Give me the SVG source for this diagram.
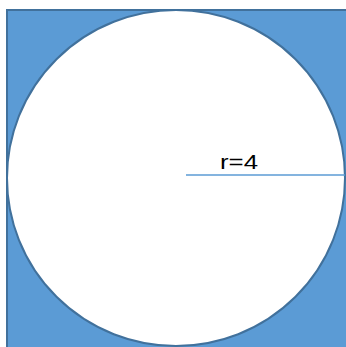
<svg xmlns="http://www.w3.org/2000/svg" width="346" height="347" viewBox="0 0 346 347">
<style>
.shape{stroke:#41719c;stroke-width:2}
.lbl{font-family:"Liberation Sans",Arial,sans-serif;font-size:21px;fill:#000}
</style>
<rect width="346" height="347" fill="#ffffff"/>
<g id="square"><rect class="shape" x="7" y="10" width="345" height="345" fill="#5b9bd5"/></g>
<g id="circle"><ellipse class="shape" cx="176" cy="178" rx="169" ry="168" fill="#ffffff"/></g>
<g id="connectors"><line x1="186" y1="175" x2="345" y2="175" stroke="#5b9bd5" stroke-width="1.5"/></g>
<g id="label"><text class="lbl" x="220" y="169" textLength="38" lengthAdjust="spacingAndGlyphs">r=4</text></g>
</svg>
